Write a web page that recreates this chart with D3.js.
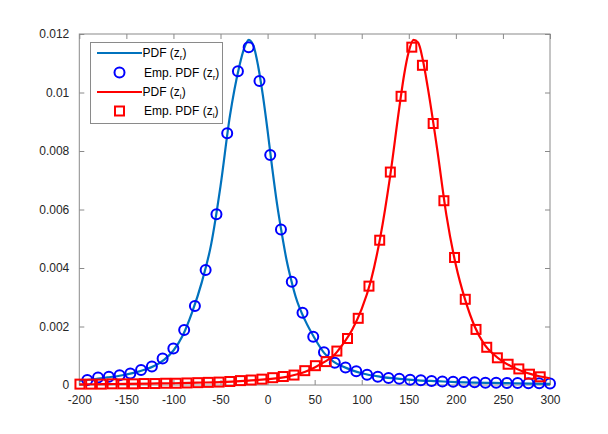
<!DOCTYPE html>
<html>
<head>
<meta charset="utf-8">
<script src="https://cdn.jsdelivr.net/npm/d3@7"></script>
<style>
  html, body { margin: 0; padding: 0; background: #fff; }
  svg { display: block; }
  text { font-family: "Liberation Sans", Arial, Helvetica, sans-serif; }
</style>
</head>
<body>
<svg id="chart" width="608" height="434"></svg>
<script>
// ---------- DATA ----------
const xTicks = [-200, -150, -100, -50, 0, 50, 100, 150, 200, 250, 300];
const xTickLabels = ["-200", "-150", "-100", "-50", "0", "50", "100", "150", "200", "250", "300"];
const yTicks = [0, 0.002, 0.004, 0.006, 0.008, 0.01, 0.012];
const yTickLabels = ["0", "0.002", "0.004", "0.006", "0.008", "0.01", "0.012"];

// Theoretical PDF of z_r (line)
const pdfRX = [-200, -190, -180, -170, -160, -150, -140, -130, -120, -110, -100, -90, -80, -70, -60, -50, -40, -30, -25, -20, -15, -10, -5, 0, 5, 10, 15, 20, 25, 30, 40, 50, 60, 70, 80, 90, 100, 120, 140, 160, 180, 200, 220, 240, 260, 280, 300];
const pdfRY = [0.00015, 0.00018, 0.00022, 0.00026, 0.0003, 0.00036, 0.00043, 0.00053, 0.00066, 0.00086, 0.00118, 0.0017, 0.0025, 0.0035, 0.0048, 0.0068, 0.0092, 0.0109, 0.0115, 0.0118, 0.0116, 0.0109, 0.0099, 0.0087, 0.0074, 0.0062, 0.0052, 0.0043, 0.0036, 0.003, 0.0022, 0.0016, 0.0011, 0.0008, 0.00063, 0.0005, 0.0004, 0.00028, 0.00021, 0.00016, 0.00013, 0.0001, 0.00008, 0.00007, 0.00006, 0.00005, 0.00004];

// Empirical PDF of z_r (circles)
const empRX = [-191.5, -180.1, -168.6, -157.2, -145.8, -134.4, -122.9, -111.5, -100.1, -88.6, -77.2, -65.8, -54.3, -42.9, -31.5, -20.1, -8.6, 2.8, 14.2, 25.7, 37.1, 48.5, 59.9, 71.4, 82.8, 94.2, 105.7, 117.1, 128.5, 139.9, 151.4, 162.8, 174.2, 185.7, 197.1, 208.5, 219.9, 231.4, 242.8, 254.2, 265.6, 277.1, 288.5, 300];
const empRY = [0.00017, 0.00026, 0.00028, 0.00033, 0.00039, 0.00051, 0.00063, 0.00091, 0.00125, 0.00188, 0.0027, 0.00393, 0.00584, 0.00861, 0.01073, 0.01155, 0.01039, 0.00786, 0.00532, 0.00353, 0.00247, 0.00165, 0.00112, 0.00076, 0.0006, 0.00047, 0.00035, 0.00028, 0.00024, 0.00021, 0.00018, 0.00016, 0.00014, 0.00012, 0.00011, 0.0001, 0.00009, 0.00008, 0.000075, 0.00007, 0.000065, 0.00006, 0.000056, 0.000052];

// Theoretical PDF of z_i (line)
const pdfIX = [-200, -175, -150, -125, -100, -75, -50, -25, 0, 20, 40, 50, 60, 70, 80, 90, 100, 110, 120, 130, 140, 145, 150, 155, 160, 165, 170, 180, 190, 200, 210, 220, 230, 240, 250, 260, 270, 280, 290, 300];
const pdfIY = [0.00002, 0.00003, 0.00004, 0.00005, 0.00006, 0.00008, 0.0001, 0.00014, 0.0002, 0.00028, 0.00045, 0.0006, 0.00078, 0.001, 0.0014, 0.0019, 0.0026, 0.0036, 0.0051, 0.0071, 0.0095, 0.0106, 0.0114, 0.0118, 0.0117, 0.0111, 0.0102, 0.0081, 0.0058, 0.0041, 0.0029, 0.002, 0.0014, 0.00105, 0.0008, 0.00062, 0.00048, 0.00037, 0.00029, 0.00023];

// Empirical PDF of z_i (squares)
const empIX = [-199.3, -187.9, -176.6, -165.2, -153.8, -142.5, -131.1, -119.7, -108.3, -97.0, -85.6, -74.2, -62.9, -51.5, -40.1, -28.8, -17.4, -6.0, 5.4, 16.7, 28.1, 39.5, 50.8, 62.2, 73.6, 84.9, 96.3, 107.7, 119.1, 130.4, 141.8, 153.2, 164.5, 175.9, 187.3, 198.6, 210.0, 221.4, 232.8, 244.1, 255.5, 266.9, 278.2, 289.6];
const empIY = [0.00003, 0.00003, 0.00003, 0.00004, 0.00004, 0.00004, 0.00005, 0.00005, 0.00006, 0.00006, 0.00007, 0.00008, 0.00009, 0.0001, 0.00012, 0.00015, 0.00017, 0.0002, 0.00025, 0.00029, 0.00034, 0.00049, 0.00066, 0.0008, 0.00116, 0.00159, 0.00228, 0.00338, 0.00495, 0.00728, 0.00987, 0.01155, 0.01093, 0.00894, 0.0063, 0.00436, 0.00293, 0.0019, 0.00129, 0.00093, 0.00071, 0.00055, 0.00037, 0.00028];

const legendLabels = [
  {pre: "PDF (z", sub: "r", post: ")"},
  {pre: "Emp. PDF (z", sub: "r", post: ")"},
  {pre: "PDF (z", sub: "i", post: ")"},
  {pre: "Emp. PDF (z", sub: "i", post: ")"}
];

// ---------- LAYOUT ----------
const L = 79.3, R = 550, T = 34, B = 385;
const axisColor = "#8a8a8a";
const textColor = "#262626";
const blueLine = "#0072BD", blueMark = "#0000FF", red = "#FF0000";

const svg = d3.select("#chart");
const x = d3.scaleLinear().domain([-200, 300]).range([L, R]);
const y = d3.scaleLinear().domain([0, 0.012]).range([B, T]);

function styleAxis(g, showLabels) {
  g.select(".domain").remove();
  g.selectAll(".tick line").attr("stroke", axisColor).attr("stroke-width", 1);
  g.selectAll(".tick text")
    .attr("fill", textColor)
    .style("font-size", "12px")
    .style("font-family", '"Liberation Sans", Arial, sans-serif');
  if (!showLabels) g.selectAll(".tick text").remove();
}

// bottom axis (ticks inward)
svg.append("g").attr("transform", `translate(0,${B})`)
  .call(d3.axisBottom(x).tickValues(xTicks).tickSize(-5).tickPadding(10)
    .tickFormat((d, i) => xTickLabels[i]))
  .call(g => styleAxis(g, true));
// top axis
svg.append("g").attr("transform", `translate(0,${T})`)
  .call(d3.axisTop(x).tickValues(xTicks).tickSize(-5))
  .call(g => styleAxis(g, false));
// left axis
svg.append("g").attr("transform", `translate(${L},0)`)
  .call(d3.axisLeft(y).tickValues(yTicks).tickSize(-5).tickPadding(10)
    .tickFormat((d, i) => yTickLabels[i]))
  .call(g => styleAxis(g, true));
// right axis
svg.append("g").attr("transform", `translate(${R},0)`)
  .call(d3.axisRight(y).tickValues(yTicks).tickSize(-5))
  .call(g => styleAxis(g, false));

// box
svg.append("rect").attr("x", L).attr("y", T).attr("width", R - L).attr("height", B - T)
  .attr("fill", "none").attr("stroke", axisColor).attr("stroke-width", 1);

const line = d3.line().x(d => x(d[0])).y(d => y(d[1])).curve(d3.curveMonotoneX);

// blue line
svg.append("path").datum(d3.zip(pdfRX, pdfRY)).attr("d", line)
  .attr("fill", "none").attr("stroke", blueLine).attr("stroke-width", 2.2);
// blue circles
svg.append("g").selectAll("circle").data(d3.zip(empRX, empRY)).join("circle")
  .attr("cx", d => x(d[0])).attr("cy", d => y(d[1])).attr("r", 5)
  .attr("fill", "none").attr("stroke", blueMark).attr("stroke-width", 2);
// red line
svg.append("path").datum(d3.zip(pdfIX, pdfIY)).attr("d", line)
  .attr("fill", "none").attr("stroke", red).attr("stroke-width", 2.2);
// red squares
const sq = 9;
svg.append("g").selectAll("rect").data(d3.zip(empIX, empIY)).join("rect")
  .attr("x", d => x(d[0]) - sq / 2).attr("y", d => y(d[1]) - sq / 2)
  .attr("width", sq).attr("height", sq)
  .attr("fill", "none").attr("stroke", red).attr("stroke-width", 2);

// ---------- LEGEND ----------
const lg = svg.append("g");
lg.append("rect").attr("x", 90.5).attr("y", 42.5).attr("width", 132).attr("height", 81)
  .attr("fill", "#fff").attr("stroke", axisColor).attr("stroke-width", 1);
const rowY = [53, 72.5, 92, 111];
// row 1: blue line
lg.append("line").attr("x1", 97).attr("x2", 142).attr("y1", rowY[0]).attr("y2", rowY[0])
  .attr("stroke", blueLine).attr("stroke-width", 2.2);
// row 2: blue circle
lg.append("circle").attr("cx", 119.5).attr("cy", rowY[1]).attr("r", 5)
  .attr("fill", "none").attr("stroke", blueMark).attr("stroke-width", 2);
// row 3: red line
lg.append("line").attr("x1", 97).attr("x2", 142).attr("y1", rowY[2]).attr("y2", rowY[2])
  .attr("stroke", red).attr("stroke-width", 2.2);
// row 4: red square
lg.append("rect").attr("x", 119.5 - sq / 2).attr("y", rowY[3] - sq / 2).attr("width", sq).attr("height", sq)
  .attr("fill", "none").attr("stroke", red).attr("stroke-width", 2);

legendLabels.forEach((lab, i) => {
  const t = lg.append("text").attr("x", i % 2 === 0 ? 142.5 : 144).attr("y", rowY[i] + 4)
    .attr("fill", "#000").style("font-size", "12px");
  t.append("tspan").text(lab.pre);
  t.append("tspan").attr("dy", 3).style("font-size", "8px").text(lab.sub);
  t.append("tspan").attr("dy", -3).text(lab.post);
});
</script>
</body>
</html>
